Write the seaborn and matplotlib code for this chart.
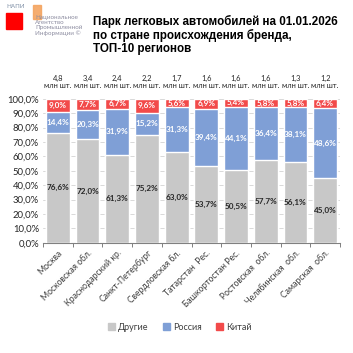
import numpy as np
import pandas as pd
import matplotlib
matplotlib.use("Agg")
import matplotlib.pyplot as plt
from matplotlib.patches import Rectangle
import seaborn as sns

# Data
regions = ["Москва", "Московская обл.", "Краснодарский кр.", "Санкт-Петербург",
           "Свердловская бл.", "Татарстан  Рес.", "Башкортостан Рес.",
           "Ростовская  обл.", "Челябинская  обл.", "Самарская  обл."]
others = [76.6, 72.0, 61.3, 75.2, 63.0, 53.7, 50.5, 57.7, 56.1, 45.0]
russia = [14.4, 20.3, 31.9, 15.2, 31.3, 39.4, 44.1, 36.4, 38.1, 48.6]
china = [9.0, 7.7, 6.7, 9.6, 5.6, 6.9, 5.4, 5.8, 5.8, 6.4]
totals = ["4,8", "3,4", "2,4", "2,2", "1,7", "1,6", "1,6", "1,6", "1,3", "1,2"]

C_OTH = "#C8C8C8"
C_RUS = "#7F9FD6"
C_CHN = "#F24A4A"

sns.set_theme(style="white")
plt.rcParams['font.family'] = ['Lato', 'DejaVu Sans']

df = pd.DataFrame({"region": regions, "others": others, "russia": russia, "china": china})
df["lvl2"] = df["others"] + df["russia"]
df["lvl3"] = df["lvl2"] + df["china"]

fig = plt.figure(figsize=(3.53, 3.53), dpi=100)
ax = fig.add_axes([0.122, 0.312, 0.841, 0.408])

# stacked by layering cumulative totals
sns.barplot(data=df, x="region", y="lvl3", color=C_CHN, width=0.8, saturation=1, ax=ax, zorder=2)
sns.barplot(data=df, x="region", y="lvl2", color=C_RUS, width=0.8, saturation=1, ax=ax, zorder=3)
sns.barplot(data=df, x="region", y="others", color=C_OTH, width=0.8, saturation=1, ax=ax, zorder=4)

def fmt(v):
    return f"{v:.1f}%".replace(".", ",")

for i, r in df.iterrows():
    ax.text(i, r["others"] / 2, fmt(r["others"]), ha="center", va="center",
            fontsize=5.9, fontweight="bold", color="#262626", zorder=5)
    ax.text(i, r["others"] + r["russia"] / 2, fmt(r["russia"]), ha="center", va="center",
            fontsize=5.9, fontweight="bold", color="white", zorder=5)
    ax.text(i, r["lvl2"] + r["china"] / 2, fmt(r["china"]), ha="center", va="center",
            fontsize=5.9, fontweight="bold", color="white", zorder=5)
    ax.text(i, 107, totals[i] + "\nмлн шт.", ha="center", va="bottom",
            fontsize=5.4, color="#262626", linespacing=0.95)

ax.set_ylim(0, 100)
ax.set_xlim(-0.5, len(regions) - 0.5)
ax.set_yticks(np.arange(0, 101, 10))
ax.set_yticklabels([f"{v:.1f}%".replace(".", ",") for v in np.arange(0, 101, 10)],
                   fontsize=6.8, color="#262626")
ax.yaxis.grid(True, color="#D9D9D9", linewidth=0.7, zorder=0)
ax.set_axisbelow(True)
ax.tick_params(axis="y", length=0, pad=3)

ax.set_xticks(np.arange(len(regions)))
ax.set_xticklabels(regions, rotation=45, ha="right", rotation_mode="anchor",
                   fontsize=6.2, color="#404040")
ax.tick_params(axis="x", length=0, pad=4)
ax.set_xticks(np.arange(-0.5, len(regions), 1), minor=True)
ax.tick_params(axis="x", which="minor", length=3, color="#808080", width=0.7, bottom=True)
ax.set_xlabel("")
ax.set_ylabel("")
for s in ["top", "right", "left"]:
    ax.spines[s].set_visible(False)
ax.spines["bottom"].set_color("#808080")
ax.spines["bottom"].set_linewidth(0.8)

# legend
handles = [Rectangle((0, 0), 1, 1, color=c) for c in (C_OTH, C_RUS, C_CHN)]
fig.legend(handles, ["Другие", "Россия", "Китай"], loc="center", bbox_to_anchor=(0.51, 0.073),
           ncol=3, frameon=False, fontsize=6.5, handlelength=0.8, handleheight=0.8,
           handletextpad=0.3, columnspacing=1.6, labelcolor="#404040")

# title
fig.text(0.263, 0.958, "Парк легковых автомобилей на 01.01.2026\nпо стране происхождения бренда,\nТОП-10 регионов",
         ha="left", va="top", fontsize=8.35, fontweight="bold", color="black",
         family=["Liberation Sans", "DejaVu Sans"], linespacing=1.12)

# logo
fig.patches.append(Rectangle((6 / 353, 1 - 29 / 353), 16 / 353, 16 / 353,
                             transform=fig.transFigure, color="#FF0000", zorder=1))
fig.patches.append(Rectangle((33 / 353, 1 - 19 / 353), 8 / 353, 14 / 353,
                             transform=fig.transFigure, color="#F4A460", zorder=1, alpha=0.9))
fig.text(6 / 353, 1 - 7 / 353, "НАПИ", fontsize=4.5, color="#7F8FA6", ha="left", va="center")
fig.text(35 / 353, 1 - 15 / 353, "Национальное\nАгентство\nПромышленной\nИнформации ©",
         fontsize=4.5, color="#8C8CA0", ha="left", va="top", linespacing=1.0)

fig.savefig("out.png", dpi=100)
